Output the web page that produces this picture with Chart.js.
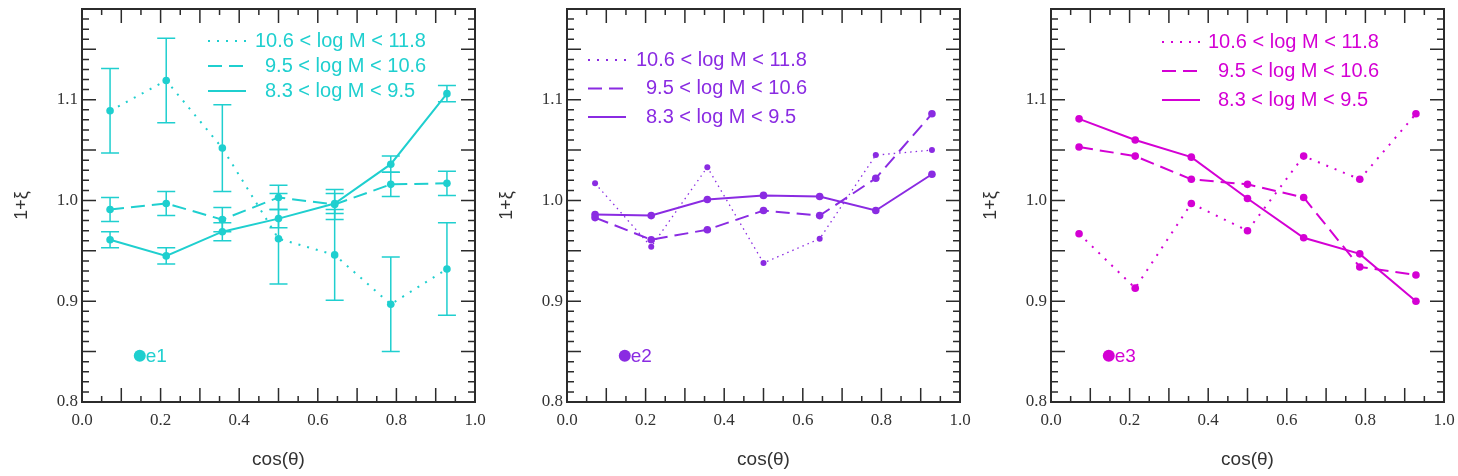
<!DOCTYPE html>
<html>
<head>
<meta charset="utf-8">
<script src="https://cdn.jsdelivr.net/npm/chart.js@4.4.1/dist/chart.umd.min.js"></script>
<style>
  html, body { margin: 0; padding: 0; background: #fff; }
  #wrap { position: relative; width: 1458px; height: 476px; overflow: hidden; }
  canvas { position: absolute; top: 0; }
</style>
</head>
<body>
<div id="wrap">
  <canvas id="c1" width="486" height="476" style="left:0px"></canvas>
  <canvas id="c2" width="486" height="476" style="left:485px"></canvas>
  <canvas id="c3" width="486" height="476" style="left:969px"></canvas>
</div>
<script>
// bin centres in cos(theta)
const cosTheta = [0.0714, 0.2143, 0.3571, 0.5, 0.6429, 0.7857, 0.9286];
const massBins = ['10.6 < log M < 11.8', '9.5 < log M < 10.6', '8.3 < log M < 9.5'];
const xLabelTicks = [0, 0.2, 0.4, 0.6, 0.8, 1.0];
const yLabelTicks = [0.8, 0.9, 1.0, 1.1];

// e1
const e1High = [1.089, 1.119, 1.052, 0.962, 0.946, 0.897, 0.932];
const e1HighErr = [0.042, 0.042, 0.043, 0.045, 0.045, 0.047, 0.046];
const e1Mid = [0.991, 0.997, 0.981, 1.003, 0.996, 1.016, 1.017];
const e1MidErr = [0.012, 0.012, 0.012, 0.012, 0.015, 0.012, 0.012];
const e1Low = [0.961, 0.945, 0.969, 0.982, 0.997, 1.036, 1.106];
const e1LowErr = [0.008, 0.008, 0.009, 0.009, 0.010, 0.008, 0.008];

// e2
const e2High = [1.017, 0.954, 1.033, 0.938, 0.962, 1.045, 1.050];
const e2Mid = [0.983, 0.961, 0.971, 0.990, 0.985, 1.022, 1.086];
const e2Low = [0.986, 0.985, 1.001, 1.005, 1.004, 0.990, 1.026];

// e3
const e3High = [0.967, 0.913, 0.997, 0.970, 1.044, 1.021, 1.086];
const e3Mid = [1.053, 1.044, 1.021, 1.016, 1.003, 0.934, 0.926];
const e3Low = [1.081, 1.060, 1.043, 1.002, 0.963, 0.947, 0.900];

const AXIS = '#2b2b2b';
const SANS = "'Liberation Sans', Arial, sans-serif";
const SERIF = "'Liberation Serif', 'Times New Roman', serif";

const DOT = [2, 7], DASH = [14, 7];

function pts(ys){ return ys.map((y,i)=>({ x: cosTheta[i], y })); }
function noPad(s){ s.paddingLeft = 0; s.paddingRight = 0; s.paddingTop = 0; s.paddingBottom = 0; }

// box + inward ticks on all four sides
const frameTicks = {
  id: 'frameTicks',
  afterDraw(chart){
    const { ctx, chartArea: a, scales: { x, y } } = chart;
    ctx.save();
    ctx.strokeStyle = AXIS;
    ctx.lineWidth = 1.5;
    ctx.beginPath();
    for(let i=0;i<=20;i++){
      const px = x.getPixelForValue(i*0.05);
      const len = (i%2===0) ? 14 : 6;
      ctx.moveTo(px, a.bottom); ctx.lineTo(px, a.bottom-len);
      ctx.moveTo(px, a.top); ctx.lineTo(px, a.top+len);
    }
    for(let i=80;i<=119;i++){
      const py = y.getPixelForValue(i/100);
      const len = (i%5===0) ? 14 : 7;
      ctx.moveTo(a.left, py); ctx.lineTo(a.left+len, py);
      ctx.moveTo(a.right, py); ctx.lineTo(a.right-len, py);
    }
    ctx.stroke();
    ctx.lineWidth = 2;
    ctx.strokeRect(a.left, a.top, a.right-a.left, a.bottom-a.top);
    ctx.restore();
  }
};

// vertical error bars with caps
const errorBars = {
  id: 'errorBars',
  afterDatasetsDraw(chart){
    const { ctx, scales: { y } } = chart;
    ctx.save();
    chart.data.datasets.forEach((ds, di)=>{
      if(!ds.errors) return;
      const meta = chart.getDatasetMeta(di);
      ctx.strokeStyle = ds.borderColor;
      ctx.lineWidth = 1.5;
      ctx.setLineDash([]);
      meta.data.forEach((p, i)=>{
        const v = ds.data[i].y, e = ds.errors[i];
        const t = y.getPixelForValue(v+e), b = y.getPixelForValue(v-e);
        ctx.beginPath();
        ctx.moveTo(p.x, t); ctx.lineTo(p.x, b);
        ctx.moveTo(p.x-9, t); ctx.lineTo(p.x+9, t);
        ctx.moveTo(p.x-9, b); ctx.lineTo(p.x+9, b);
        ctx.stroke();
      });
    });
    ctx.restore();
  }
};

// line-style key and panel tag
const panelKey = {
  id: 'panelKey',
  afterDraw(chart, args, o){
    const { ctx, chartArea: a } = chart;
    ctx.save();
    ctx.font = '20px ' + SANS;
    ctx.textBaseline = 'middle';
    ctx.fillStyle = o.color;
    ctx.strokeStyle = o.color;
    const styles = [DOT, DASH, []];
    massBins.forEach((txt, i)=>{
      const yy = a.top + o.y0 + i*o.dy;
      const x0 = a.left + o.lineX;
      ctx.lineWidth = 2;
      ctx.setLineDash(styles[i]);
      ctx.beginPath(); ctx.moveTo(x0, yy); ctx.lineTo(x0+38, yy); ctx.stroke();
      ctx.fillText(txt, a.left + o.textX[i], yy);
    });
    const tag = chart.getDatasetMeta(3).data[0];
    ctx.font = '19px ' + SANS;
    ctx.fillText(o.tag, tag.x+6, tag.y+1);
    ctx.restore();
  }
};

function makePanel(id, color, high, mid, low, errs, key, dotW){
  const ds = (label, ys, dash, w, r) => ({
    label, data: pts(ys), borderColor: color, backgroundColor: color,
    borderDash: dash, borderWidth: w, pointRadius: r, pointBorderWidth: 0,
    tension: 0, fill: false
  });
  const sets = [
    ds(massBins[0], high, dotW < 2 ? [1.5, 4] : DOT, dotW, dotW < 2 ? 3 : 3.8),
    ds(massBins[1], mid, DASH, 2, 3.8),
    ds(massBins[2], low, [], 2, 3.8),
    { label: key.tag, data: [{ x: 0.147, y: 0.846 }], showLine: false,
      pointRadius: 6, pointBorderWidth: 0, backgroundColor: color, borderColor: color }
  ];
  if(errs){ sets[0].errors = errs[0]; sets[1].errors = errs[1]; sets[2].errors = errs[2]; }

  new Chart(document.getElementById(id), {
    type: 'line',
    data: { datasets: sets },
    options: {
      responsive: false, animation: false,
      layout: { padding: { top: 9, right: 11, left: 0, bottom: 0 } },
      plugins: { legend: { display: false }, tooltip: { enabled: false }, panelKey: key },
      scales: {
        x: {
          type: 'linear', min: 0, max: 1,
          afterBuildTicks: s => { s.ticks = xLabelTicks.map(v=>({ value: v })); },
          afterFit: s => { s.height = 74; noPad(s); },
          ticks: { font: { family: SERIF, size: 17 }, color: '#333', padding: 8, maxRotation: 0, autoSkip: false,
                   callback: v => Number(v).toFixed(1) },
          grid: { display: false, drawTicks: false }, border: { display: false },
          title: { display: true, text: 'cos(θ)', font: { family: SANS, size: 19 }, color: '#333',
                   padding: { top: 0, bottom: 5 } }
        },
        y: {
          min: 0.8, max: 1.19,
          afterBuildTicks: s => { s.ticks = yLabelTicks.map(v=>({ value: v })); },
          afterFit: s => { s.width = 82; noPad(s); },
          ticks: { font: { family: SERIF, size: 17 }, color: '#333', padding: 4, autoSkip: false,
                   callback: v => Number(v).toFixed(1) },
          grid: { display: false, drawTicks: false }, border: { display: false },
          title: { display: true, text: '1+ξ', font: { family: SANS, size: 18 }, color: '#333',
                   padding: { top: 11, bottom: 0 } }
        }
      }
    },
    plugins: [frameTicks, errorBars, panelKey]
  });
}

makePanel('c1', '#1fcfcf', e1High, e1Mid, e1Low, [e1HighErr, e1MidErr, e1LowErr],
  { color: '#1fcfcf', tag: 'e1', lineX: 126, textX: [173, 183, 183], y0: 32, dy: 25 }, 2);
makePanel('c2', '#8a2be2', e2High, e2Mid, e2Low, null,
  { color: '#8a2be2', tag: 'e2', lineX: 21, textX: [69, 79, 79], y0: 51, dy: 28.5 }, 1.3);
makePanel('c3', '#d400d4', e3High, e3Mid, e3Low, null,
  { color: '#d400d4', tag: 'e3', lineX: 111, textX: [157, 167, 167], y0: 33, dy: 29 }, 2);
</script>
</body>
</html>
